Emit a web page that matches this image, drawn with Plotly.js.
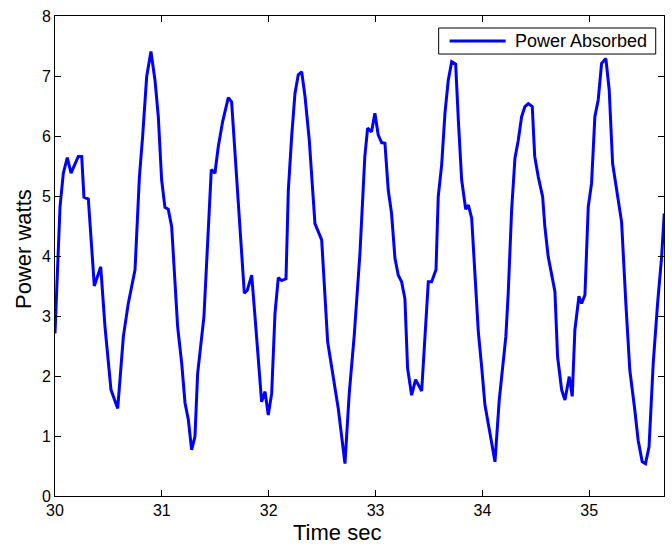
<!DOCTYPE html>
<html>
<head>
<meta charset="utf-8">
<script src="https://cdn.plot.ly/plotly-3.0.1.min.js"></script>
<style>html,body{margin:0;padding:0;background:#fff;}#chart{width:672px;height:546px;}</style>
</head>
<body>
<div id="chart"></div>
<script>
const timeSec = [30.000,30.047,30.078,30.115,30.150,30.218,30.250,30.271,30.312,30.368,30.428,30.468,30.524,30.587,30.640,30.686,30.749,30.790,30.820,30.858,30.898,30.936,30.967,30.998,31.029,31.060,31.092,31.148,31.186,31.217,31.248,31.279,31.310,31.335,31.394,31.420,31.463,31.497,31.528,31.569,31.622,31.653,31.700,31.747,31.772,31.800,31.841,31.872,31.912,31.934,31.966,31.996,32.028,32.059,32.090,32.121,32.162,32.184,32.215,32.246,32.277,32.309,32.340,32.380,32.433,32.496,32.552,32.620,32.651,32.714,32.754,32.800,32.854,32.900,32.926,32.963,32.994,33.025,33.057,33.088,33.119,33.150,33.182,33.213,33.244,33.275,33.300,33.338,33.375,33.432,33.463,33.494,33.525,33.566,33.587,33.619,33.650,33.681,33.713,33.750,33.775,33.806,33.844,33.869,33.900,33.930,33.962,33.993,34.024,34.055,34.118,34.158,34.190,34.220,34.242,34.274,34.305,34.336,34.367,34.398,34.430,34.467,34.490,34.523,34.564,34.585,34.616,34.648,34.679,34.704,34.742,34.773,34.813,34.841,34.866,34.904,34.929,34.960,34.991,35.022,35.053,35.084,35.116,35.156,35.187,35.219,35.256,35.303,35.343,35.380,35.427,35.458,35.496,35.527,35.560,35.599,35.640,35.678,35.702];
const powerWatts = [2.71,4.82,5.38,5.64,5.38,5.66,5.66,4.98,4.95,3.50,3.82,2.82,1.77,1.46,2.66,3.21,3.77,5.32,5.99,6.99,7.41,6.93,6.32,5.27,4.81,4.78,4.49,2.82,2.21,1.55,1.27,0.77,0.99,2.04,2.99,3.88,5.44,5.38,5.82,6.24,6.64,6.57,5.32,4.10,3.38,3.43,3.68,2.99,1.99,1.57,1.74,1.35,1.71,3.04,3.64,3.59,3.62,5.10,5.99,6.71,7.02,7.07,6.66,5.93,4.54,4.27,2.57,1.77,1.46,0.54,1.71,2.66,4.04,5.66,6.13,6.07,6.38,6.02,5.89,5.88,5.10,4.71,3.96,3.68,3.57,3.29,2.13,1.68,1.94,1.75,2.77,3.57,3.57,3.77,4.99,5.52,6.38,6.93,7.24,7.20,6.27,5.27,4.78,4.85,4.63,3.66,2.74,2.16,1.52,1.21,0.57,1.60,2.10,2.66,3.38,4.77,5.63,5.93,6.32,6.49,6.54,6.49,5.66,5.32,4.99,4.49,3.99,3.71,3.41,2.32,1.77,1.60,1.99,1.66,2.77,3.33,3.21,3.35,4.82,5.21,6.32,6.60,7.21,7.29,6.77,5.54,5.10,4.57,3.21,2.10,1.43,0.93,0.57,0.54,0.82,2.21,3.21,3.99,4.71];
const xTicks = [30,31,32,33,34,35];
const yTicks = [0,1,2,3,4,5,6,7,8];
const seriesName = 'Power Absorbed';
const xTitle = 'Time sec';
const yTitle = 'Power watts';
const lineColor = '#0000ff';

const axisCommon = {
  showgrid:false, zeroline:false, showline:true, linecolor:'#000', linewidth:1,
  mirror:'ticks', ticks:'inside', ticklen:6, tickcolor:'#000', tickwidth:1,
  tickfont:{size:16, color:'#000'}
};

Plotly.newPlot('chart', [{
  x: timeSec, y: powerWatts, type:'scatter', mode:'lines', name: seriesName,
  line:{color:lineColor, width:3}, showlegend:false
}], {
  width:672, height:546,
  margin:{l:55, r:8, t:16, b:50},
  paper_bgcolor:'#fff', plot_bgcolor:'#fff',
  font:{family:'Liberation Sans, Arial, sans-serif', color:'#000'},
  showlegend:false,
  xaxis: Object.assign({}, axisCommon, {range:[30,35.7], tickvals:xTicks}),
  yaxis: Object.assign({}, axisCommon, {range:[0,8], tickvals:yTicks}),
  shapes:[
    {type:'rect', xref:'paper', yref:'paper', x0:0.630, x1:0.9864, y0:0.9208, y1:0.975,
     line:{color:'#000', width:1}, fillcolor:'#fff', layer:'above'},
    {type:'line', xref:'paper', yref:'paper', x0:0.648, x1:0.740, y0:0.948, y1:0.948,
     line:{color:lineColor, width:3}, layer:'above'}
  ],
  annotations:[
    {text:seriesName, xref:'paper', yref:'paper', x:0.7517, y:0.948, xanchor:'left', yanchor:'middle',
     showarrow:false, font:{size:18, color:'#000'}},
    {text:xTitle, xref:'paper', yref:'paper', x:0.4628, y:-0.077, xanchor:'center', yanchor:'middle',
     showarrow:false, font:{size:22, color:'#000'}},
    {text:yTitle, xref:'paper', yref:'paper', x:-0.0509, y:0.5146, xanchor:'center', yanchor:'middle',
     textangle:-90, showarrow:false, font:{size:22, color:'#000'}}
  ]
}, {displayModeBar:false});
</script>
</body>
</html>
